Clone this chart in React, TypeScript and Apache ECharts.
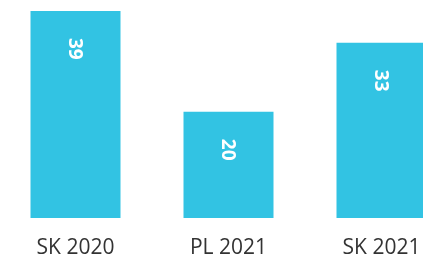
import React, { useEffect, useRef } from "react";
import * as echarts from "echarts";

const categories = ["SK 2020", "PL 2021", "SK 2021"];
const values = [39, 20, 33];

export default function App() {
  const ref = useRef<HTMLDivElement>(null);
  useEffect(() => {
    document.body.style.margin = "0";
    document.body.style.overflow = "hidden";
    const chart = echarts.init(ref.current!, undefined, { renderer: "svg" });
    chart.setOption({
      animation: false,
      grid: { left: 0, right: 0, top: 11, bottom: 41, containLabel: false },
      xAxis: {
        type: "category",
        data: categories,
        axisLine: { show: false },
        axisTick: { show: false },
        axisLabel: {
          color: "#333333",
          fontSize: 21,
          lineHeight: 21,
          fontFamily: "Open Sans",
          margin: 17,
        },
      },
      yAxis: {
        type: "value",
        min: 0,
        max: 39,
        show: false,
        splitLine: { show: false },
      },
      series: [
        {
          type: "bar",
          data: values,
          barWidth: 90,
          itemStyle: { color: "#32C3E3" },
          label: {
            show: true,
            position: "insideTop",
            distance: 27,
            rotate: -90,
            align: "left",
            verticalAlign: "middle",
            color: "#ffffff",
            fontSize: 19,
            fontWeight: "bold",
            fontFamily: "Open Sans",
          },
        },
      ],
    });
    return () => chart.dispose();
  }, []);
  return (
    <div
      ref={ref}
      style={{ position: "fixed", left: -1, top: 0, width: 459, height: 259 }}
    />
  );
}
